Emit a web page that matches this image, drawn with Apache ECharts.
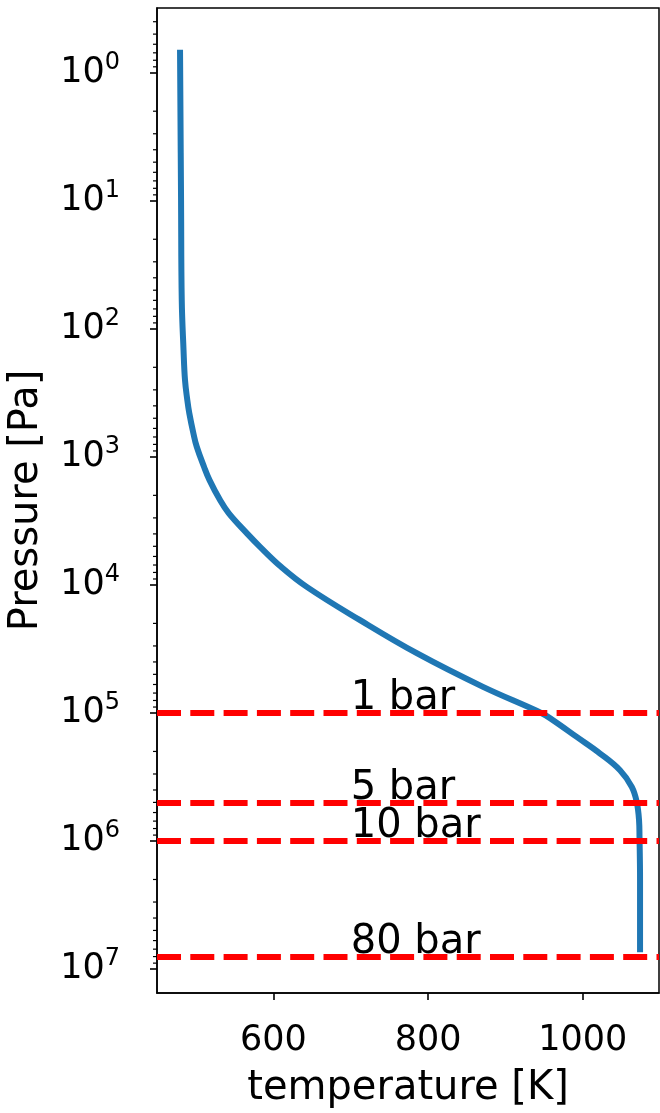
<!DOCTYPE html>
<html><head><meta charset="utf-8">
<script src="https://cdn.jsdelivr.net/npm/echarts@6/dist/echarts.min.js"></script>
<style>html,body{margin:0;padding:0;background:#fff}#c{width:660px;height:1113px}</style>
</head><body><div id="c"></div>
<script>
// Temperature-pressure profile
const temperature = [479.4, 480.7, 481.6, 483.9, 485.8, 488.8, 491.4, 496.6, 501.0, 510.5, 517.5, 531.1, 542.5, 565.6, 582.8, 610.0, 643.2, 712.1, 785.4, 871.1, 947.0, 961.6, 992.2, 1022.4, 1048.2, 1063.4, 1069.8, 1072.8, 1073.4, 1074.1, 1074.1];
const pressure    = [0.70, 10, 59.7, 146.6, 251.6, 360.6, 458, 653, 835, 1202, 1520, 2178, 2767, 3945, 5047, 7228, 10370, 18880, 34200, 62660, 100500, 114000, 154000, 207600, 280300, 378600, 495500, 688700, 930000, 2.03e6, 7.02e6];
// Reference pressure levels
const levelPressure = [1e5, 5e5, 1e6, 8e6];
const levelLabels = ['1 bar', '5 bar', '10 bar', '80 bar'];
const labelTemperature = 700;
// Ticks
const xTicks = [600, 800, 1000];
const yTicks = [1, 10, 100, 1e3, 1e4, 1e5, 1e6, 1e7];
const yTickExp = ['0', '1', '2', '3', '4', '5', '6', '7'];
const yMinorTicks = [0.4, 0.5, 0.6, 0.7, 0.8, 0.9,
  2, 3, 4, 5, 6, 7, 8, 9,
  20, 30, 40, 50, 60, 70, 80, 90,
  200, 300, 400, 500, 600, 700, 800, 900,
  2e3, 3e3, 4e3, 5e3, 6e3, 7e3, 8e3, 9e3,
  2e4, 3e4, 4e4, 5e4, 6e4, 7e4, 8e4, 9e4,
  2e5, 3e5, 4e5, 5e5, 6e5, 7e5, 8e5, 9e5,
  2e6, 3e6, 4e6, 5e6, 6e6, 7e6, 8e6, 9e6];
const xMin = 449.6, xMax = 1098.6;
const yMin = 0.3126, yMax = 1.54e7;

const FONT = 'DejaVu Sans';
const chart = echarts.init(document.getElementById('c'), null, {renderer: 'canvas'});

const curve = temperature.map((t, i) => [t, pressure[i]]);
const textPts = levelPressure.map((p, i) => ({value: [labelTemperature, p], name: levelLabels[i]}));

chart.setOption({
  animation: false,
  backgroundColor: '#fff',
  grid: {left: 157, top: 8, right: 1, bottom: 120, show: true, borderColor: '#000', borderWidth: 1.5,
         containLabel: false, outerBoundsMode: 'none'},
  xAxis: {
    type: 'value', min: xMin, max: xMax,
    name: 'temperature [K]', nameLocation: 'middle', nameGap: 76,
    nameTextStyle: {fontFamily: FONT, fontSize: 40, color: '#000'},
    axisLine: {show: true, lineStyle: {color: '#000', width: 1.5}},
    axisTick: {show: true, length: 7, lineStyle: {color: '#000', width: 1.6}, customValues: xTicks},
    axisLabel: {show: true, margin: 30, fontFamily: FONT, fontSize: 35, color: '#000', customValues: xTicks,
      formatter: v => String(v)},
    splitLine: {show: false}
  },
  yAxis: {
    type: 'log', logBase: 10, min: yMin, max: yMax, inverse: true,
    name: 'Pressure [Pa]', nameLocation: 'middle', nameGap: 110, nameRotate: 90,
    nameTextStyle: {fontFamily: FONT, fontSize: 40, color: '#000'},
    axisLine: {show: true, lineStyle: {color: '#000', width: 1.5}},
    axisTick: {show: true, length: 7, lineStyle: {color: '#000', width: 1.6}, customValues: yTicks},
    axisLabel: {
      show: true, margin: 37, customValues: yTicks,
      formatter: function (v) {
        const i = yTicks.findIndex(t => Math.abs(Math.log10(t) - Math.log10(v)) < 1e-6);
        if (i < 0) return '';
        return '{b|10}{s|' + yTickExp[i] + '}';
      },
      rich: {
        b: {fontFamily: FONT, fontSize: 35, color: '#000', lineHeight: 44},
        s: {fontFamily: FONT, fontSize: 24, color: '#000', lineHeight: 32, verticalAlign: 'top'}
      }
    },
    splitLine: {show: false}
  },
  series: [
    {
      type: 'line', data: curve, showSymbol: false, symbol: 'none', smooth: 0.4,
      lineStyle: {color: '#1f77b4', width: 6, cap: 'square', join: 'round'},
      z: 2,
      markLine: {
        silent: true, symbol: 'none', animation: false,
        label: {show: false},
        lineStyle: {color: '#ff0000', width: 6, type: [24, 9.3], cap: 'butt', opacity: 1},
        emphasis: {disabled: true},
        data: levelPressure.map(p => ({yAxis: p}))
      }
    },
    {
      type: 'scatter', data: textPts, symbolSize: 0, z: 5,
      itemStyle: {opacity: 1},
      label: {
        show: true, position: [0, 0], align: 'left', verticalAlign: 'bottom', offset: [0, 6],
        formatter: p => p.name, fontFamily: FONT, fontSize: 40, color: '#000', lineHeight: 40, opacity: 1
      }
    },
    {
      type: 'custom', clip: false, silent: true, z: 3,
      data: yMinorTicks.map(v => [xMin, v]),
      renderItem: function (params, api) {
        const pt = api.coord([api.value(0), api.value(1)]);
        return {type: 'line', shape: {x1: pt[0] - 4, y1: pt[1], x2: pt[0], y2: pt[1]},
          style: {stroke: '#000', lineWidth: 1.2}};
      }
    }
  ]
});
</script>
</body></html>
